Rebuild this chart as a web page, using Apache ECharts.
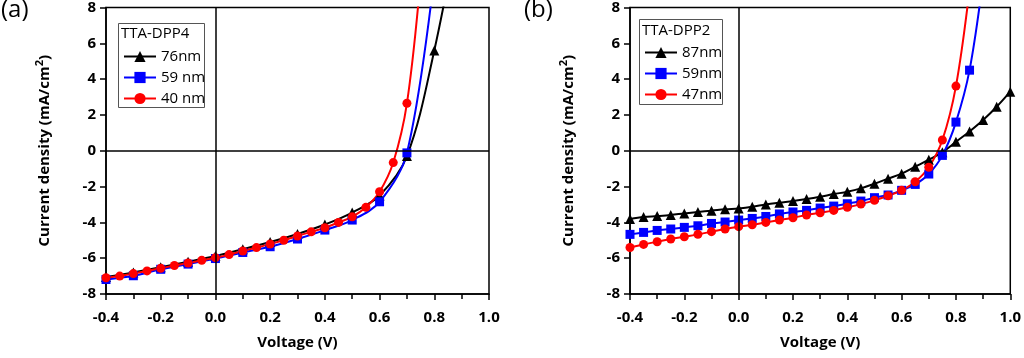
<!DOCTYPE html>
<html>
<head>
<meta charset="utf-8">
<script src="https://cdn.jsdelivr.net/npm/echarts@6/dist/echarts.min.js"></script>
<style>
html,body{margin:0;padding:0;background:#fff;}
#chart{width:1024px;height:358px;}
</style>
</head>
<body>
<div id="chart"></div>
<script>
// ---------- Panel (a): TTA-DPP4 ----------
const voltA_76 = [-0.4,-0.3,-0.2,-0.1,0.0,0.1,0.2,0.3,0.4,0.5,0.6,0.7,0.8,0.9];
const currA_76 = [-7.05,-6.8,-6.5,-6.2,-5.88,-5.5,-5.1,-4.65,-4.12,-3.45,-2.5,-0.3,5.6,13.5];
const voltA_59 = [-0.4,-0.3,-0.2,-0.1,0.0,0.1,0.2,0.3,0.4,0.5,0.6,0.7,0.8];
const currA_59 = [-7.19,-6.98,-6.62,-6.33,-6.02,-5.68,-5.36,-4.93,-4.43,-3.87,-2.85,-0.12,9.8];
const voltA_40 = [-0.4,-0.35,-0.3,-0.25,-0.2,-0.15,-0.1,-0.05,0.0,0.05,0.1,0.15,0.2,0.25,0.3,0.35,0.4,0.45,0.5,0.55,0.6,0.65,0.7,0.75];
const currA_40 = [-7.09,-7.0,-6.86,-6.71,-6.56,-6.41,-6.27,-6.12,-5.97,-5.8,-5.6,-5.41,-5.21,-5.0,-4.76,-4.53,-4.3,-4.0,-3.69,-3.16,-2.29,-0.66,2.65,9.6];

// ---------- Panel (b): TTA-DPP2 ----------
const voltB_87 = [-0.4,-0.35,-0.3,-0.25,-0.2,-0.15,-0.1,-0.05,0.0,0.05,0.1,0.15,0.2,0.25,0.3,0.35,0.4,0.45,0.5,0.55,0.6,0.65,0.7,0.75,0.8,0.85,0.9,0.95,1.0];
const currB_87 = [-3.81,-3.70,-3.65,-3.59,-3.50,-3.42,-3.35,-3.27,-3.22,-3.13,-3.0,-2.9,-2.81,-2.70,-2.57,-2.42,-2.29,-2.10,-1.84,-1.56,-1.28,-0.89,-0.5,-0.08,0.5,1.08,1.72,2.46,3.3];
const voltB_59 = [-0.4,-0.35,-0.3,-0.25,-0.2,-0.15,-0.1,-0.05,0.0,0.05,0.1,0.15,0.2,0.25,0.3,0.35,0.4,0.45,0.5,0.55,0.6,0.65,0.7,0.75,0.8,0.85,0.9];
const currB_59 = [-4.67,-4.56,-4.45,-4.37,-4.28,-4.19,-4.06,-3.98,-3.87,-3.78,-3.67,-3.53,-3.42,-3.33,-3.2,-3.09,-2.96,-2.81,-2.62,-2.47,-2.21,-1.88,-1.3,-0.26,1.6,4.5,9.6];
const voltB_47 = [-0.4,-0.35,-0.3,-0.25,-0.2,-0.15,-0.1,-0.05,0.0,0.05,0.1,0.15,0.2,0.25,0.3,0.35,0.4,0.45,0.5,0.55,0.6,0.65,0.7,0.75,0.8,0.85];
const currB_47 = [-5.40,-5.23,-5.08,-4.93,-4.80,-4.67,-4.52,-4.37,-4.24,-4.13,-4.0,-3.87,-3.74,-3.59,-3.46,-3.33,-3.16,-2.98,-2.77,-2.51,-2.21,-1.73,-0.92,0.6,3.61,9.0];

// ---------- Axes / labels ----------
const xRange = [-0.4, 1.0];
const xStep = 0.2;
const yRange = [-8, 8];
const yStep = 2;
const xTitle = 'Voltage (V)';
const yTitle = 'Current density (mA/cm{sup|2})';
const panelLabels = ['(a)', '(b)'];
const legendTitles = ['TTA-DPP4', 'TTA-DPP2'];
const namesA = ['76nm', '59 nm', '40 nm'];
const namesB = ['87nm', '59nm', '47nm'];

const FONT = 'Open Sans';
const zip = (xs, ys) => xs.map((x, i) => [x, ys[i]]);

function xAxis(gi) {
  return {
    type: 'value', gridIndex: gi, min: xRange[0], max: xRange[1], interval: xStep,
    name: xTitle, nameLocation: 'middle', nameGap: 41,
    nameTextStyle: {fontFamily: FONT, fontWeight: 'bold', fontSize: 15, color: '#000'},
    axisLine: {show: true, onZero: false, lineStyle: {color: '#000', width: 1.5}},
    axisTick: {show: true, inside: false, length: 6, lineStyle: {color: '#000', width: 1.5}},
    minorTick: {show: true, splitNumber: 2, length: 5, lineStyle: {color: '#000', width: 1.5}},
    splitLine: {show: false},
    axisLabel: {fontFamily: FONT, fontWeight: 'bold', fontSize: 15, color: '#000', margin: 16,
      formatter: v => v.toFixed(1)}
  };
}
function yAxis(gi) {
  return {
    type: 'value', gridIndex: gi, min: yRange[0], max: yRange[1], interval: yStep,
    name: yTitle, nameLocation: 'middle', nameGap: 50, nameRotate: 90,
    nameTextStyle: {fontFamily: FONT, fontWeight: 'bold', fontSize: 15, color: '#000',
      rich: {sup: {fontFamily: FONT, fontWeight: 'bold', fontSize: 11, color: '#000', padding: [0, 0, 11, 0]}}},
    axisLine: {show: true, onZero: false, lineStyle: {color: '#000', width: 1.5}},
    axisTick: {show: true, inside: false, length: 6, lineStyle: {color: '#000', width: 1.5}},
    splitLine: {show: false},
    axisLabel: {fontFamily: FONT, fontWeight: 'bold', fontSize: 15, color: '#000', margin: 10}
  };
}
const zeroLines = {
  silent: true, symbol: ['none', 'none'], label: {show: false},
  lineStyle: {color: '#000', width: 1.5, type: 'solid'},
  emphasis: {disabled: true},
  data: [{xAxis: 0}, {yAxis: 0}]
};
function series(name, gi, data, color, symbol, size, withZero) {
  const s = {
    name, type: 'line', xAxisIndex: gi, yAxisIndex: gi, data,
    smooth: 0.35, clip: true, symbol, symbolSize: size, showAllSymbol: true,
    lineStyle: {color, width: 2}, itemStyle: {color, borderWidth: 0},
    emphasis: {disabled: true}, z: 3
  };
  if (withZero) s.markLine = zeroLines;
  return s;
}
function legend(names, left, top) {
  return {
    data: names, orient: 'vertical', left, top, itemGap: 6, itemWidth: 32, itemHeight: 14,
    selectedMode: false, padding: 0, z: 100,
    itemStyle: {borderWidth: 0},
    textStyle: {fontFamily: FONT, fontSize: 15, color: '#000'}
  };
}
function legendBox(x, y, w, h, title, tx, ty) {
  return [
    {type: 'rect', left: x, top: y, shape: {width: w, height: h},
      style: {fill: '#fff', stroke: '#555', lineWidth: 1}, z: 50},
    {type: 'text', left: tx, top: ty, style: {text: title, font: '15px "Open Sans"', fill: '#000'}, z: 51}
  ];
}

const chart = echarts.init(document.getElementById('chart'), null, {renderer: 'canvas'});
chart.setOption({
  animation: false,
  backgroundColor: '#fff',
  grid: [
    {left: 106, right: 535, top: 7, bottom: 64, show: true, borderColor: '#000', borderWidth: 1.5, containLabel: false},
    {left: 630, right: 12, top: 7, bottom: 64, show: true, borderColor: '#000', borderWidth: 1.5, containLabel: false}
  ],
  xAxis: [xAxis(0), xAxis(1)],
  yAxis: [yAxis(0), yAxis(1)],
  legend: [legend(namesA, 123, 49), legend(namesB, 644, 45)],
  graphic: [
    {type: 'text', left: 1, top: -2, style: {text: panelLabels[0], font: '24px "Open Sans"', fill: '#000'}},
    {type: 'text', left: 524, top: -2, style: {text: panelLabels[1], font: '24px "Open Sans"', fill: '#000'}},
    ...legendBox(118, 23, 86, 84, legendTitles[0], 121, 26),
    ...legendBox(639, 19, 83, 85, legendTitles[1], 642, 23)
  ],
  series: [
    series(namesA[0], 0, zip(voltA_76, currA_76), '#000000', 'triangle', 10, true),
    series(namesA[1], 0, zip(voltA_59, currA_59), '#0000ff', 'rect', 9, false),
    series(namesA[2], 0, zip(voltA_40, currA_40), '#ff0000', 'circle', 9, false),
    series(namesB[0], 1, zip(voltB_87, currB_87), '#000000', 'triangle', 10, true),
    series(namesB[1], 1, zip(voltB_59, currB_59), '#0000ff', 'rect', 9, false),
    series(namesB[2], 1, zip(voltB_47, currB_47), '#ff0000', 'circle', 9, false)
  ]
});
</script>
</body>
</html>
